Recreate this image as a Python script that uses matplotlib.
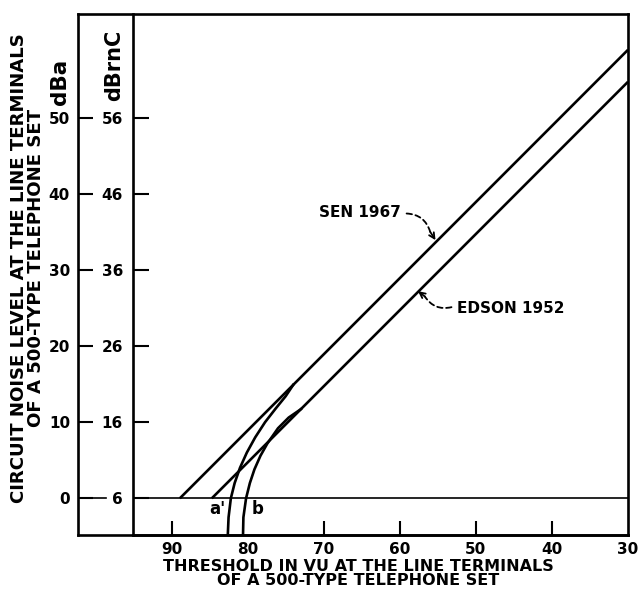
import numpy as np
import matplotlib
matplotlib.use("Agg")
import matplotlib.pyplot as plt

plt.rcParams['font.family'] = ['DejaVu Sans']
plt.rcParams['font.weight'] = 'bold'

# y tick values: dBa and the matching dBrnC scale
dba_ticks = [0, 10, 20, 30, 40, 50]
dbrnc_ticks = [6, 16, 26, 36, 46, 56]
vu_ticks = [90, 80, 70, 60, 50, 40, 30]

# straight lines (VU, dBa)
sen_vu = [88.9, 30]
sen_db = [0, 58.9]
edson_vu = [84.7, 30]
edson_db = [0, 54.7]

# curve a and curve b
a_vu = [82.6, 82.5, 82.2, 81.7, 81.0, 80.1, 79.0, 77.7, 76.3, 75.0, 74.0]
a_db = [-4.8, -2.5, 0, 2, 4, 6, 8, 10, 11.8, 13.4, 14.9]
b_vu = [80.6, 80.55, 80.2, 79.7, 79.1, 78.3, 77.4, 76.0, 74.6, 73.0]
b_db = [-4.8, -2.5, 0, 2, 3.8, 5.6, 7.2, 9.2, 10.6, 11.7]

W, H = 639, 589
fig = plt.figure(figsize=(W / 100, H / 100), dpi=100)

bot = 1 - 535 / H
hgt = (535 - 14) / H
ylim = (-4.82, 63.6)
lw = 1.9

# outer frame with the dBa scale
fr = fig.add_axes([78.3 / W, bot, (628 - 78.3) / W, hgt])
fr.set_xlim(102.3, 30)
fr.set_ylim(*ylim)
fr.set_xticks([])
fr.set_yticks(dba_ticks)
fr.set_yticklabels([str(v) for v in dba_ticks])
fr.tick_params(axis='y', direction='in', length=11, width=1.5, pad=6, labelsize=11)
for s in fr.spines.values():
    s.set_linewidth(lw)
fr.plot([102.3, 98.6], [0, 0], color='black', lw=1.2)

# inner axes with the dBrnC scale
ax = fig.add_axes([132.7 / W, bot, (628 - 132.7) / W, hgt])
ax.patch.set_visible(False)
ax.set_xlim(95.1, 30)
ax.set_ylim(*ylim)
for k in ['top', 'right']:
    ax.spines[k].set_visible(False)
for k in ['left', 'bottom']:
    ax.spines[k].set_linewidth(lw)
ax.set_yticks(dba_ticks)
ax.set_yticklabels([str(v) for v in dbrnc_ticks])
ax.tick_params(axis='y', direction='in', length=11.5, width=1.5, pad=7, labelsize=11)
ax.set_xticks(vu_ticks)
ax.set_xticklabels([str(v) for v in vu_ticks])
ax.tick_params(axis='x', direction='in', length=10, width=1.5, pad=5, labelsize=11)
xt = ax.xaxis.get_major_ticks()
xt[1].tick1line.set_visible(False)
xt[-1].tick1line.set_visible(False)

ax.axhline(0, color='black', lw=1.2)
ax.plot(sen_vu, sen_db, color='black', lw=lw, solid_capstyle='butt')
ax.plot(edson_vu, edson_db, color='black', lw=lw, solid_capstyle='butt')
ax.plot(a_vu, a_db, color='black', lw=lw)
ax.plot(b_vu, b_db, color='black', lw=lw)

ax.text(84.0, -1.4, "a'", fontsize=12, ha='center', va='center')
ax.text(78.7, -1.4, "b", fontsize=12, ha='center', va='center')

# annotations
ax.text(70.6, 37.5, "SEN 1967", fontsize=11, ha='left', va='center')
ax.annotate('', xy=(56.0, 35.0), xytext=(59.1, 37.4),
            arrowprops=dict(arrowstyle='-', linestyle=(0, (3, 2)), lw=1.3,
                            connectionstyle='arc3,rad=-0.35', shrinkA=0, shrinkB=0))
ax.annotate('', xy=(55.3, 33.9), xytext=(56.0, 35.0),
            arrowprops=dict(arrowstyle='->', lw=1.3, shrinkA=0, shrinkB=0))

ax.text(52.5, 24.9, "EDSON 1952", fontsize=11, ha='left', va='center')
ax.annotate('', xy=(56.7, 26.5), xytext=(53.2, 25.1),
            arrowprops=dict(arrowstyle='-', linestyle=(0, (3, 2)), lw=1.3,
                            connectionstyle='arc3,rad=-0.35', shrinkA=0, shrinkB=0))
ax.annotate('', xy=(57.6, 27.2), xytext=(56.7, 26.5),
            arrowprops=dict(arrowstyle='->', lw=1.3, shrinkA=0, shrinkB=0))

# axis titles
fig.text(60 / W, 1 - 82 / H, "dBa", rotation=90, fontsize=15.5, ha='center', va='center')
fig.text(114 / W, 1 - 65 / H, "dBrnC", rotation=90, fontsize=15, ha='center', va='center')
fig.text(27.5 / W, 1 - 268 / H,
         "CIRCUIT NOISE LEVEL AT THE LINE TERMINALS\nOF A 500-TYPE TELEPHONE SET",
         rotation=90, fontsize=13.1, ha='center', va='center', multialignment='center',
         linespacing=0.97)
fig.text(358 / W, 1 - 573.5 / H,
         "THRESHOLD IN VU AT THE LINE TERMINALS\nOF A 500-TYPE TELEPHONE SET",
         fontsize=11.5, ha='center', va='center', multialignment='center',
         linespacing=0.95)

fig.savefig("out.png", dpi=100)
